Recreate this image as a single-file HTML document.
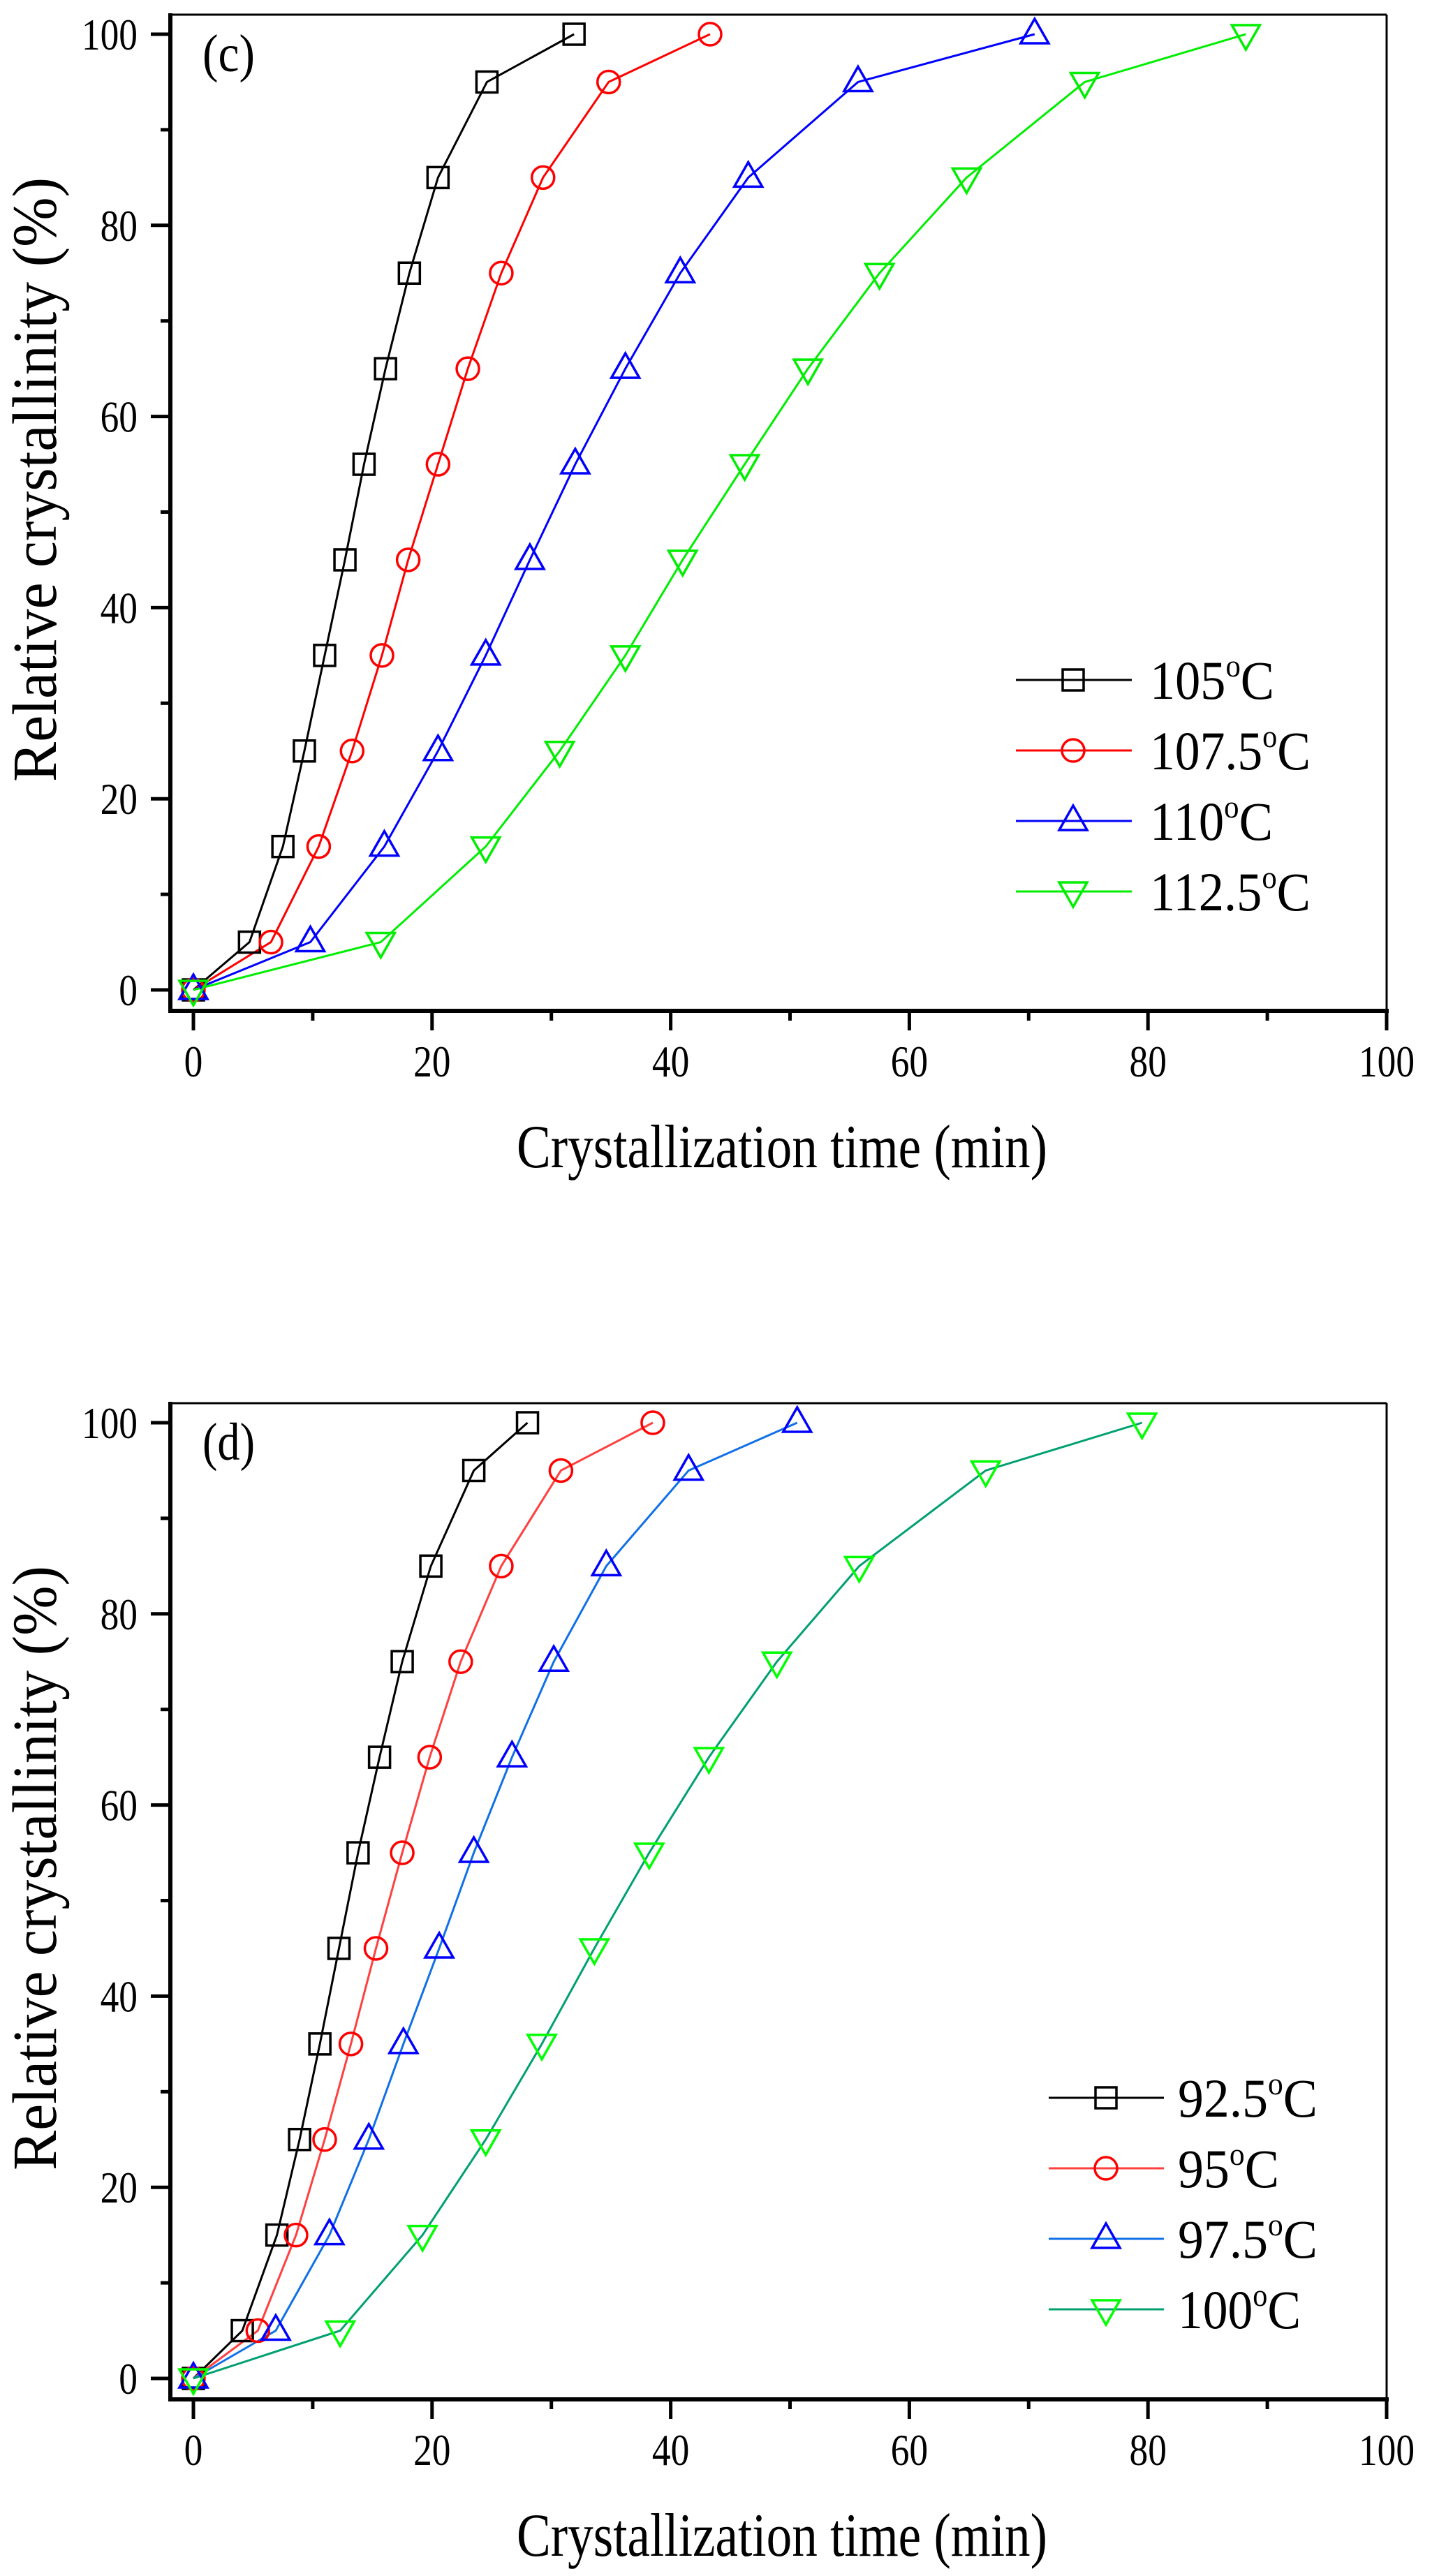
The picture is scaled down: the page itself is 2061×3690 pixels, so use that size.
<!DOCTYPE html>
<html><head><meta charset="utf-8">
<style>
html,body{margin:0;padding:0;background:#fff;}
svg{display:block;}
</style></head>
<body>
<svg id="s" width="2061" height="3690" viewBox="0 0 2061 3690" xmlns="http://www.w3.org/2000/svg"></svg>
<script>
const NS="http://www.w3.org/2000/svg";
const svg=document.getElementById('s');
const FF="'Liberation Serif', 'Times New Roman', 'Nimbus Roman', 'DejaVu Serif', serif";
function el(t,a,txt){const e=document.createElementNS(NS,t);for(const k in a)e.setAttribute(k,a[k]);if(txt!==undefined)e.textContent=txt;svg.appendChild(e);return e;}
function tx(a,txt){a.style="font-family:"+FF;a.fill='#000';a.lengthAdjust='spacingAndGlyphs';return el('text',a,txt);}
const X0=277,SX=17.09;
function marker(type,x,y,col){
  if(type==='sq') el('rect',{x:x-15,y:y-15,width:30,height:30,fill:'none',stroke:col,'stroke-width':3.5});
  else if(type==='ci') el('circle',{cx:x,cy:y,r:16,fill:'none',stroke:col,'stroke-width':3.5});
  else if(type==='up') el('polygon',{points:`${x},${y-22} ${x+20},${y+13} ${x-20},${y+13}`,fill:'none',stroke:col,'stroke-width':3.5});
  else el('polygon',{points:`${x},${y+22} ${x+20},${y-13} ${x-20},${y-13}`,fill:'none',stroke:col,'stroke-width':3.5});
}
const YV=[0,5,15,25,35,45,55,65,75,85,95,100];
function plot(off,label,series,legend){
  const top=21+off,bot=1448+off,Y100=49+off,SY=13.69,Y0=Y100+100*SY;
  const px=v=>X0+v*SX, py=v=>Y0-v*SY;
  el('line',{x1:244,y1:top,x2:1986,y2:top,stroke:'#000','stroke-width':3});
  el('line',{x1:1986,y1:top,x2:1986,y2:bot,stroke:'#000','stroke-width':3});
  el('line',{x1:244,y1:top-2,x2:244,y2:bot+3,stroke:'#000','stroke-width':6});
  el('line',{x1:241,y1:bot,x2:1989,y2:bot,stroke:'#000','stroke-width':6});
  for(let v=0;v<=100;v+=10){
    const y=py(v),maj=v%20==0;
    const w=String(v).length*26.7;
    el('line',{x1:maj?216:230,y1:y,x2:244,y2:y,stroke:'#000','stroke-width':5});
    if(maj) tx({x:197-w,y:y+22,'font-size':64,textLength:w},String(v));
    const x=px(v);
    el('line',{x1:x,y1:bot,x2:x,y2:maj?bot+28:bot+14,stroke:'#000','stroke-width':5});
    if(maj) tx({x:x-w/2,y:1542+off,'font-size':64,textLength:w},String(v));
  }
  tx({x:740,y:1672+off,'font-size':88,textLength:760},'Crystallization time (min)');
  tx({x:0,y:0,'font-size':90,textLength:866,transform:`translate(80,${687+off+433}) rotate(-90)`},'Relative crystallinity (%)');
  tx({x:290,y:102+off,'font-size':76,textLength:75},label);
  series.forEach(s=>{
    const pts=s.x.map((v,i)=>`${px(v)},${py(YV[i])}`).join(' ');
    el('polyline',{points:pts,fill:'none',stroke:s.lc,'stroke-width':3});
  });
  series.forEach(s=>{s.x.forEach((v,i)=>marker(s.m,px(v),py(YV[i]),s.mc));});
  series.forEach((s,i)=>{
    const y=legend.y0+i*101+off;
    el('line',{x1:legend.l1,y1:y,x2:legend.l2,y2:y,stroke:s.lc,'stroke-width':3});
    marker(s.m,legend.mx,y,s.mc);
    const t=tx({x:legend.tx,y:y+27,'font-size':78,textLength:s.w});
    const a=document.createElementNS(NS,'tspan');a.textContent=s.name;t.appendChild(a);
    const b=document.createElementNS(NS,'tspan');b.setAttribute('font-size','46');b.setAttribute('dy','-32');b.textContent='o';t.appendChild(b);
    const c=document.createElementNS(NS,'tspan');c.setAttribute('dy','32');c.textContent='C';t.appendChild(c);
  });
}
plot(0,'(c)',[
 {name:'105',w:178,m:'sq',lc:'#000',mc:'#000',x:[0,4.7,7.5,9.3,11,12.7,14.3,16.1,18.1,20.5,24.6,31.9]},
 {name:'107.5',w:230,m:'ci',lc:'#ff0000',mc:'#ff0000',x:[0,6.5,10.5,13.3,15.8,18,20.5,23,25.8,29.3,34.8,43.3]},
 {name:'110',w:176,m:'up',lc:'#0000ff',mc:'#0000ff',x:[0,9.8,16,20.5,24.5,28.2,32,36.2,40.8,46.5,55.7,70.5]},
 {name:'112.5',w:230,m:'dn',lc:'#00ee00',mc:'#00ee00',x:[0,15.7,24.5,30.7,36.2,41,46.2,51.5,57.5,64.8,74.7,88.2]}
],{y0:974,l1:1455,l2:1621,mx:1537,tx:1647});
plot(1989,'(d)',[
 {name:'92.5',w:200,m:'sq',lc:'#000',mc:'#000',x:[0,4.1,7,8.9,10.6,12.2,13.8,15.6,17.5,19.9,23.5,28]},
 {name:'95',w:145,m:'ci',lc:'#ff4040',mc:'#ff0000',x:[0,5.4,8.6,11,13.2,15.3,17.5,19.8,22.4,25.8,30.8,38.5]},
 {name:'97.5',w:200,m:'up',lc:'#1070e8',mc:'#0000ff',x:[0,6.9,11.4,14.7,17.6,20.6,23.5,26.7,30.2,34.6,41.5,50.6]},
 {name:'100',w:176,m:'dn',lc:'#00a070',mc:'#00ff00',x:[0,12.3,19.2,24.5,29.2,33.6,38.2,43.2,48.9,55.8,66.4,79.5]}
],{y0:1016,l1:1502,l2:1667,mx:1584,tx:1687});
</script>
</body></html>
